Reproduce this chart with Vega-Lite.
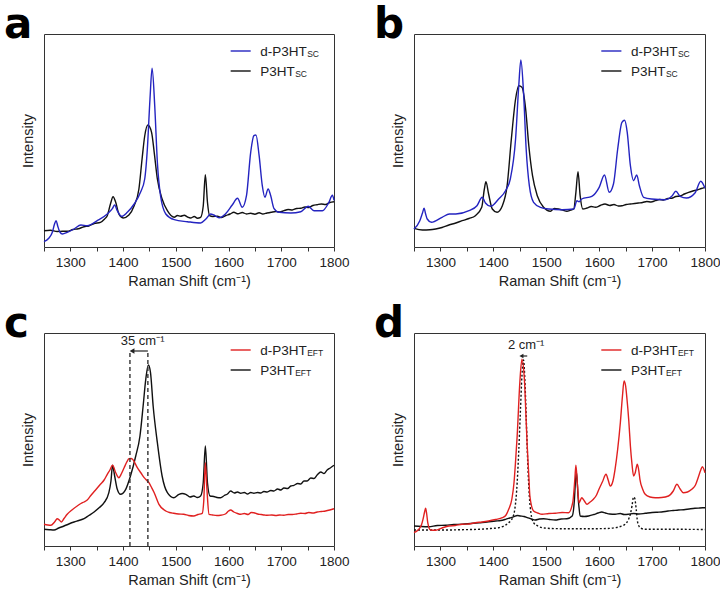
{
"$schema": "https://vega.github.io/schema/vega-lite/v6.json",
"background": "white",
"padding": {"left": 3, "top": 3, "right": 0, "bottom": 0},
"columns": 2,
"spacing": {"row": 13, "column": 23},
"config": {
  "font": "Liberation Sans",
  "view": {"stroke": "#333", "strokeWidth": 1},
  "axis": {"grid": false, "domain": false, "labelColor": "#222", "titleColor": "#222", "titleFontWeight": "normal", "tickColor": "#333"},
  "axisX": {"labelFlush": false, "labelFontSize": 13.5, "titleFontSize": 14.5, "tickSize": 4, "labelPadding": 4, "titlePadding": 6, "labelOverlap": false, "tickCount": 11, "format": "d", "labelExpr": "datum.value % 100 == 0 ? datum.label : ''"},
  "axisY": {"labels": false, "ticks": false, "titleFontSize": 14.5, "titlePadding": 9},
  "line": {"interpolate": "monotone", "strokeWidth": 1.4},
  "title": {"font": "DejaVu Sans", "fontSize": 42, "fontWeight": "bold", "anchor": "start", "frame": "group", "dx": -40, "offset": -13, "color": "#000"}
},
"datasets": {
"aD": [{"wn":1250,"int":5.3},{"wn":1259,"int":8.7},{"wn":1266,"int":15},{"wn":1270,"int":23},{"wn":1273,"int":26.3},{"wn":1276,"int":21},{"wn":1280,"int":15},{"wn":1285,"int":13},{"wn":1294,"int":14.7},{"wn":1307,"int":18},{"wn":1320,"int":22},{"wn":1332,"int":21.3},{"wn":1351,"int":26.3},{"wn":1370,"int":33},{"wn":1380,"int":38.7},{"wn":1384,"int":42},{"wn":1389,"int":36.3},{"wn":1397,"int":30.7},{"wn":1408,"int":34.7},{"wn":1421,"int":43},{"wn":1433,"int":54.7},{"wn":1441,"int":68},{"wn":1446,"int":98},{"wn":1451,"int":148},{"wn":1455,"int":178.7},{"wn":1460,"int":141.3},{"wn":1465,"int":84.7},{"wn":1471,"int":51.3},{"wn":1481,"int":33},{"wn":1497,"int":27.3},{"wn":1522,"int":25.3},{"wn":1547,"int":24},{"wn":1557,"int":28},{"wn":1566,"int":33},{"wn":1572,"int":32},{"wn":1582,"int":29.3},{"wn":1594,"int":33},{"wn":1607,"int":42},{"wn":1617,"int":48.7},{"wn":1626,"int":39.7},{"wn":1634,"int":51.3},{"wn":1642,"int":94.7},{"wn":1648,"int":111.3},{"wn":1652,"int":112},{"wn":1658,"int":91.3},{"wn":1664,"int":61.3},{"wn":1669,"int":49.7},{"wn":1675,"int":58},{"wn":1680,"int":51.3},{"wn":1686,"int":38.7},{"wn":1696,"int":34.7},{"wn":1718,"int":34},{"wn":1737,"int":35.3},{"wn":1751,"int":40.7},{"wn":1762,"int":36.3},{"wn":1778,"int":36.3},{"wn":1790,"int":44.3},{"wn":1797,"int":51.7},{"wn":1800,"int":46.7}],
"aH": [{"wn":1250,"int":16.3},{"wn":1262,"int":16.8},{"wn":1275,"int":15.5},{"wn":1285,"int":15.7},{"wn":1294,"int":15.7},{"wn":1305,"int":17.5},{"wn":1315,"int":18.2},{"wn":1326,"int":20.3},{"wn":1335,"int":21},{"wn":1345,"int":23.5},{"wn":1357,"int":24.7},{"wn":1365,"int":28},{"wn":1370,"int":31.3},{"wn":1376,"int":43},{"wn":1381,"int":50.3},{"wn":1386,"int":44.7},{"wn":1392,"int":33},{"wn":1400,"int":29},{"wn":1411,"int":32},{"wn":1421,"int":41.3},{"wn":1430,"int":58},{"wn":1436,"int":88},{"wn":1441,"int":111},{"wn":1447,"int":122},{"wn":1454,"int":114.7},{"wn":1459,"int":94.7},{"wn":1465,"int":68},{"wn":1474,"int":48},{"wn":1484,"int":36.3},{"wn":1497,"int":29.7},{"wn":1503,"int":31.5},{"wn":1509,"int":30.7},{"wn":1516,"int":31.8},{"wn":1522,"int":30},{"wn":1528,"int":29},{"wn":1535,"int":30.5},{"wn":1541,"int":28.8},{"wn":1547,"int":29.7},{"wn":1552,"int":41},{"wn":1556,"int":72.3},{"wn":1560,"int":44.7},{"wn":1564,"int":31.3},{"wn":1570,"int":30.5},{"wn":1579,"int":30.7},{"wn":1586,"int":29.5},{"wn":1595,"int":31.5},{"wn":1603,"int":33},{"wn":1610,"int":34.7},{"wn":1618,"int":33.2},{"wn":1626,"int":34.5},{"wn":1634,"int":33},{"wn":1642,"int":33.7},{"wn":1650,"int":32.8},{"wn":1658,"int":34.2},{"wn":1665,"int":33},{"wn":1673,"int":34},{"wn":1681,"int":34.8},{"wn":1690,"int":35.5},{"wn":1697,"int":35},{"wn":1705,"int":36.3},{"wn":1713,"int":37.5},{"wn":1721,"int":37},{"wn":1729,"int":38.5},{"wn":1737,"int":38.7},{"wn":1745,"int":40},{"wn":1752,"int":39.5},{"wn":1760,"int":41.5},{"wn":1768,"int":42.3},{"wn":1776,"int":43},{"wn":1784,"int":42.5},{"wn":1792,"int":44.5},{"wn":1800,"int":45.3}],
"bD": [{"wn":1250,"int":18},{"wn":1261,"int":26.3},{"wn":1266,"int":34},{"wn":1269,"int":38.7},{"wn":1272,"int":33},{"wn":1275,"int":28},{"wn":1283,"int":24.7},{"wn":1303,"int":29.7},{"wn":1317,"int":33},{"wn":1329,"int":33},{"wn":1354,"int":36.3},{"wn":1369,"int":41.3},{"wn":1379,"int":49.7},{"wn":1385,"int":44},{"wn":1395,"int":40.7},{"wn":1410,"int":48},{"wn":1423,"int":56.3},{"wn":1432,"int":68},{"wn":1442,"int":108},{"wn":1448,"int":161.3},{"wn":1452,"int":187},{"wn":1457,"int":154.7},{"wn":1462,"int":98},{"wn":1468,"int":61.3},{"wn":1476,"int":44.7},{"wn":1489,"int":39.7},{"wn":1505,"int":38},{"wn":1530,"int":37.3},{"wn":1552,"int":38},{"wn":1558,"int":46.3},{"wn":1562,"int":45.3},{"wn":1567,"int":48},{"wn":1586,"int":50.7},{"wn":1600,"int":59.7},{"wn":1610,"int":72},{"wn":1619,"int":54.7},{"wn":1627,"int":63},{"wn":1635,"int":98},{"wn":1643,"int":124.7},{"wn":1648,"int":126.7},{"wn":1653,"int":114.7},{"wn":1659,"int":81.3},{"wn":1665,"int":66.3},{"wn":1671,"int":72},{"wn":1676,"int":61.3},{"wn":1684,"int":49.7},{"wn":1699,"int":48},{"wn":1725,"int":47.3},{"wn":1737,"int":50.7},{"wn":1745,"int":55.7},{"wn":1753,"int":50.7},{"wn":1765,"int":49},{"wn":1781,"int":54},{"wn":1792,"int":65.7},{"wn":1800,"int":58.7}],
"bH": [{"wn":1250,"int":18.7},{"wn":1266,"int":17},{"wn":1280,"int":17.2},{"wn":1291,"int":18},{"wn":1303,"int":19.5},{"wn":1316,"int":22},{"wn":1329,"int":24},{"wn":1341,"int":26.3},{"wn":1354,"int":28.5},{"wn":1366,"int":31.3},{"wn":1378,"int":39.7},{"wn":1383,"int":58},{"wn":1386,"int":65.3},{"wn":1391,"int":53},{"wn":1398,"int":38},{"wn":1407,"int":34.7},{"wn":1417,"int":41.3},{"wn":1426,"int":61.3},{"wn":1434,"int":108},{"wn":1442,"int":148},{"wn":1448,"int":161.3},{"wn":1454,"int":159.7},{"wn":1461,"int":138},{"wn":1467,"int":101.3},{"wn":1474,"int":71.3},{"wn":1483,"int":51.3},{"wn":1495,"int":39.7},{"wn":1508,"int":35.7},{"wn":1515,"int":38.5},{"wn":1523,"int":38},{"wn":1531,"int":37},{"wn":1539,"int":35.7},{"wn":1546,"int":37},{"wn":1552,"int":38},{"wn":1556,"int":54.7},{"wn":1560,"int":75.3},{"wn":1564,"int":51.3},{"wn":1569,"int":38},{"wn":1577,"int":39},{"wn":1585,"int":40.5},{"wn":1593,"int":39.7},{"wn":1602,"int":41.5},{"wn":1611,"int":43},{"wn":1620,"int":41.5},{"wn":1628,"int":42.5},{"wn":1636,"int":41},{"wn":1643,"int":41.3},{"wn":1651,"int":42.5},{"wn":1659,"int":43},{"wn":1667,"int":43.5},{"wn":1674,"int":44},{"wn":1682,"int":44.5},{"wn":1690,"int":45.5},{"wn":1698,"int":45},{"wn":1706,"int":46.3},{"wn":1714,"int":47.5},{"wn":1722,"int":47},{"wn":1730,"int":48.5},{"wn":1737,"int":48.7},{"wn":1745,"int":50.5},{"wn":1753,"int":51},{"wn":1761,"int":53},{"wn":1769,"int":54.7},{"wn":1777,"int":56},{"wn":1785,"int":57},{"wn":1793,"int":58.5},{"wn":1800,"int":59.7}],
"cD": [{"wn":1250,"int":21.7},{"wn":1257,"int":21},{"wn":1263,"int":20.7},{"wn":1270,"int":24},{"wn":1275,"int":27.3},{"wn":1279,"int":26},{"wn":1283,"int":24},{"wn":1288,"int":27.5},{"wn":1294,"int":31.7},{"wn":1303,"int":36},{"wn":1313,"int":40},{"wn":1320,"int":42.5},{"wn":1326,"int":44},{"wn":1332,"int":46},{"wn":1338,"int":50},{"wn":1347,"int":55.5},{"wn":1357,"int":61.7},{"wn":1364,"int":66},{"wn":1370,"int":71.7},{"wn":1375,"int":76},{"wn":1380,"int":80.7},{"wn":1386,"int":73.3},{"wn":1392,"int":68.3},{"wn":1397,"int":72.5},{"wn":1402,"int":78.3},{"wn":1407,"int":84},{"wn":1411,"int":87.3},{"wn":1415,"int":87.5},{"wn":1418,"int":86.7},{"wn":1427,"int":78.3},{"wn":1434,"int":73},{"wn":1440,"int":68.3},{"wn":1449,"int":63.3},{"wn":1454,"int":58.5},{"wn":1459,"int":53.3},{"wn":1468,"int":41.7},{"wn":1481,"int":35},{"wn":1488,"int":33.5},{"wn":1496,"int":32.7},{"wn":1505,"int":32},{"wn":1515,"int":31.7},{"wn":1524,"int":30.5},{"wn":1534,"int":30},{"wn":1542,"int":31.5},{"wn":1550,"int":32.7},{"wn":1553,"int":45},{"wn":1556,"int":83.3},{"wn":1559,"int":56.7},{"wn":1563,"int":31.7},{"wn":1570,"int":31},{"wn":1578,"int":30.5},{"wn":1585,"int":30.7},{"wn":1594,"int":32},{"wn":1600,"int":35},{"wn":1604,"int":36},{"wn":1610,"int":34},{"wn":1617,"int":32.5},{"wn":1623,"int":31.7},{"wn":1630,"int":32.5},{"wn":1637,"int":31.5},{"wn":1643,"int":33.5},{"wn":1648,"int":33.3},{"wn":1655,"int":32},{"wn":1662,"int":31.5},{"wn":1668,"int":31},{"wn":1673,"int":30.7},{"wn":1682,"int":31},{"wn":1690,"int":30.5},{"wn":1697,"int":31},{"wn":1705,"int":30.7},{"wn":1713,"int":31.5},{"wn":1721,"int":31.5},{"wn":1729,"int":32},{"wn":1737,"int":32.7},{"wn":1745,"int":32.5},{"wn":1752,"int":33.5},{"wn":1760,"int":33},{"wn":1768,"int":34},{"wn":1776,"int":34.5},{"wn":1784,"int":35},{"wn":1792,"int":36},{"wn":1800,"int":37.3}],
"cH": [{"wn":1250,"int":16.7},{"wn":1260,"int":16.3},{"wn":1269,"int":16},{"wn":1278,"int":18},{"wn":1288,"int":20},{"wn":1297,"int":22},{"wn":1307,"int":24},{"wn":1316,"int":25.5},{"wn":1326,"int":27.3},{"wn":1335,"int":30.5},{"wn":1345,"int":34},{"wn":1355,"int":38.5},{"wn":1364,"int":43.3},{"wn":1373,"int":53.3},{"wn":1377,"int":65},{"wn":1380,"int":80.7},{"wn":1384,"int":70},{"wn":1389,"int":56.7},{"wn":1395,"int":51.7},{"wn":1405,"int":56.7},{"wn":1414,"int":70},{"wn":1424,"int":90},{"wn":1432,"int":110},{"wn":1438,"int":140},{"wn":1443,"int":166.7},{"wn":1448,"int":181},{"wn":1452,"int":173.3},{"wn":1457,"int":140},{"wn":1465,"int":103.3},{"wn":1474,"int":70},{"wn":1484,"int":53.3},{"wn":1496,"int":48.3},{"wn":1506,"int":51.7},{"wn":1512,"int":52.5},{"wn":1519,"int":51.7},{"wn":1527,"int":49},{"wn":1534,"int":50},{"wn":1541,"int":48.5},{"wn":1547,"int":50},{"wn":1552,"int":63.3},{"wn":1556,"int":100},{"wn":1560,"int":63.3},{"wn":1565,"int":50},{"wn":1572,"int":49.5},{"wn":1578,"int":48.5},{"wn":1585,"int":48.3},{"wn":1592,"int":50.5},{"wn":1598,"int":52},{"wn":1604,"int":55},{"wn":1611,"int":53},{"wn":1617,"int":54},{"wn":1623,"int":52.7},{"wn":1630,"int":53.5},{"wn":1636,"int":52},{"wn":1642,"int":53.5},{"wn":1648,"int":52.7},{"wn":1655,"int":53.5},{"wn":1661,"int":53},{"wn":1667,"int":54.5},{"wn":1673,"int":54},{"wn":1680,"int":55.5},{"wn":1686,"int":55},{"wn":1693,"int":57},{"wn":1699,"int":56},{"wn":1705,"int":58},{"wn":1712,"int":57.5},{"wn":1718,"int":60},{"wn":1724,"int":60.7},{"wn":1731,"int":62.5},{"wn":1737,"int":62},{"wn":1743,"int":65},{"wn":1749,"int":65},{"wn":1756,"int":68},{"wn":1762,"int":67.5},{"wn":1768,"int":71},{"wn":1775,"int":74},{"wn":1781,"int":72.5},{"wn":1787,"int":76},{"wn":1793,"int":78},{"wn":1800,"int":80.7}],
"dD": [{"wn":1250,"int":13.3},{"wn":1259,"int":16.7},{"wn":1264,"int":21},{"wn":1267,"int":26.7},{"wn":1270,"int":34},{"wn":1272,"int":37.7},{"wn":1274,"int":32},{"wn":1276,"int":23.3},{"wn":1281,"int":16},{"wn":1291,"int":15.7},{"wn":1303,"int":18},{"wn":1316,"int":20},{"wn":1328,"int":20.5},{"wn":1341,"int":21.7},{"wn":1354,"int":22},{"wn":1366,"int":23.3},{"wn":1379,"int":24},{"wn":1391,"int":25},{"wn":1404,"int":26.5},{"wn":1417,"int":28.3},{"wn":1424,"int":31},{"wn":1429,"int":36.7},{"wn":1435,"int":47},{"wn":1439,"int":63.3},{"wn":1442,"int":85},{"wn":1445,"int":110},{"wn":1450,"int":163.3},{"wn":1454,"int":186.7},{"wn":1459,"int":163.3},{"wn":1462,"int":125},{"wn":1464,"int":100},{"wn":1467,"int":70},{"wn":1469,"int":50},{"wn":1476,"int":35},{"wn":1484,"int":33},{"wn":1492,"int":31.7},{"wn":1505,"int":32.5},{"wn":1517,"int":32.7},{"wn":1530,"int":33.5},{"wn":1542,"int":33.3},{"wn":1550,"int":43.3},{"wn":1554,"int":66.7},{"wn":1556,"int":80.7},{"wn":1559,"int":60},{"wn":1562,"int":43.3},{"wn":1567,"int":48.3},{"wn":1572,"int":45},{"wn":1577,"int":41.7},{"wn":1583,"int":44},{"wn":1589,"int":46.7},{"wn":1595,"int":51},{"wn":1600,"int":57.3},{"wn":1606,"int":64},{"wn":1613,"int":71.7},{"wn":1617,"int":66},{"wn":1621,"int":60},{"wn":1626,"int":65},{"wn":1630,"int":76.7},{"wn":1635,"int":97},{"wn":1640,"int":123.3},{"wn":1644,"int":150},{"wn":1647,"int":165},{"wn":1650,"int":160},{"wn":1652,"int":150},{"wn":1656,"int":125},{"wn":1659,"int":100},{"wn":1662,"int":82},{"wn":1665,"int":70},{"wn":1668,"int":73},{"wn":1672,"int":81.7},{"wn":1675,"int":75},{"wn":1677,"int":66.7},{"wn":1682,"int":57},{"wn":1687,"int":51.7},{"wn":1696,"int":49},{"wn":1706,"int":48.3},{"wn":1718,"int":48.5},{"wn":1731,"int":50},{"wn":1740,"int":55},{"wn":1747,"int":61.7},{"wn":1753,"int":57},{"wn":1759,"int":53.3},{"wn":1767,"int":54},{"wn":1775,"int":56.7},{"wn":1782,"int":61},{"wn":1787,"int":68.3},{"wn":1792,"int":76},{"wn":1795,"int":79.3},{"wn":1800,"int":73.3}],
"dH": [{"wn":1250,"int":20},{"wn":1264,"int":19.5},{"wn":1278,"int":19.3},{"wn":1294,"int":20.5},{"wn":1310,"int":20.7},{"wn":1325,"int":21.5},{"wn":1341,"int":21.7},{"wn":1357,"int":22.5},{"wn":1373,"int":23.3},{"wn":1388,"int":24},{"wn":1404,"int":25},{"wn":1414,"int":25.5},{"wn":1423,"int":26.7},{"wn":1431,"int":28},{"wn":1439,"int":29.3},{"wn":1445,"int":30.5},{"wn":1451,"int":30},{"wn":1458,"int":29.5},{"wn":1464,"int":28.3},{"wn":1472,"int":27},{"wn":1479,"int":26},{"wn":1487,"int":27},{"wn":1495,"int":27.3},{"wn":1506,"int":26.5},{"wn":1517,"int":26},{"wn":1528,"int":27},{"wn":1539,"int":27.3},{"wn":1549,"int":30},{"wn":1553,"int":45},{"wn":1555,"int":63.3},{"wn":1557,"int":74},{"wn":1559,"int":60},{"wn":1560,"int":50},{"wn":1562,"int":38},{"wn":1564,"int":30},{"wn":1572,"int":29.5},{"wn":1580,"int":30},{"wn":1590,"int":31.5},{"wn":1598,"int":33},{"wn":1605,"int":34},{"wn":1612,"int":33},{"wn":1620,"int":32},{"wn":1630,"int":31.7},{"wn":1640,"int":32.5},{"wn":1647,"int":31.5},{"wn":1655,"int":31.7},{"wn":1665,"int":32.5},{"wn":1675,"int":32},{"wn":1687,"int":32.7},{"wn":1700,"int":33.5},{"wn":1710,"int":33.8},{"wn":1718,"int":34},{"wn":1730,"int":35},{"wn":1740,"int":35.5},{"wn":1750,"int":36},{"wn":1760,"int":36.3},{"wn":1770,"int":37},{"wn":1781,"int":37.7},{"wn":1790,"int":38},{"wn":1800,"int":38.3}],
"dR": [{"wn":1250,"int":16},{"wn":1280,"int":16},{"wn":1310,"int":16},{"wn":1340,"int":16.3},{"wn":1373,"int":16.7},{"wn":1395,"int":17.5},{"wn":1410,"int":18.3},{"wn":1420,"int":20},{"wn":1429,"int":23.3},{"wn":1436,"int":28},{"wn":1440,"int":35},{"wn":1444,"int":55},{"wn":1448,"int":95},{"wn":1451,"int":133.3},{"wn":1454,"int":170},{"wn":1457,"int":186},{"wn":1460,"int":160},{"wn":1462,"int":130},{"wn":1465,"int":83.3},{"wn":1468,"int":50},{"wn":1471,"int":33},{"wn":1476,"int":23.3},{"wn":1484,"int":20},{"wn":1492,"int":18.3},{"wn":1510,"int":17.5},{"wn":1530,"int":17.3},{"wn":1560,"int":17.3},{"wn":1593,"int":17.3},{"wn":1615,"int":17.5},{"wn":1630,"int":18.3},{"wn":1640,"int":19.5},{"wn":1649,"int":21.7},{"wn":1655,"int":26},{"wn":1659,"int":32},{"wn":1662,"int":40},{"wn":1665,"int":49},{"wn":1667,"int":48},{"wn":1670,"int":36.7},{"wn":1672,"int":26},{"wn":1675,"int":20},{"wn":1680,"int":17.5},{"wn":1687,"int":16.7},{"wn":1720,"int":16.7},{"wn":1750,"int":16.7},{"wn":1800,"int":16.5}]
},
"concat": [
{
 "title": "a", "width": 290, "height": 213,
 "layer": [
  {"data": {"name": "aH"}, "mark": {"type": "line", "color": "#111"},
   "encoding": {"x": {"field": "wn", "type": "quantitative", "scale": {"domain": [1250, 1800], "nice": false, "zero": false}, "axis": {"title": "Raman Shift (cm⁻¹)"}},
                "y": {"field": "int", "type": "quantitative", "scale": {"domain": [0, 213], "nice": false}, "axis": {"title": "Intensity"}}}},
  {"data": {"name": "aD"}, "mark": {"type": "line", "color": "#2424c0"},
   "encoding": {"x": {"field": "wn", "type": "quantitative"}, "y": {"field": "int", "type": "quantitative"}}},
  {"data": {"values": [{}]}, "mark": {"type": "rule", "color": "#2424c0", "strokeWidth": 1.4}, "encoding": {"x": {"datum": 1604}, "x2": {"datum": 1642}, "y": {"datum": 196}}},
  {"data": {"values": [{}]}, "mark": {"type": "rule", "color": "#111", "strokeWidth": 1.4}, "encoding": {"x": {"datum": 1604}, "x2": {"datum": 1642}, "y": {"datum": 176}}},
  {"data": {"values": [{}]}, "mark": {"type": "text", "align": "left", "baseline": "alphabetic", "fontSize": 13.5, "dy": 5, "color": "#222"}, "encoding": {"x": {"datum": 1660}, "y": {"datum": 196}, "text": {"value": "d-P3HT"}}},
  {"data": {"values": [{}]}, "mark": {"type": "text", "align": "left", "baseline": "alphabetic", "fontSize": 8.5, "dx": 47, "dy": 6, "color": "#222"}, "encoding": {"x": {"datum": 1660}, "y": {"datum": 196}, "text": {"value": "SC"}}},
  {"data": {"values": [{}]}, "mark": {"type": "text", "align": "left", "baseline": "alphabetic", "fontSize": 13.5, "dy": 5, "color": "#222"}, "encoding": {"x": {"datum": 1660}, "y": {"datum": 176}, "text": {"value": "P3HT"}}},
  {"data": {"values": [{}]}, "mark": {"type": "text", "align": "left", "baseline": "alphabetic", "fontSize": 8.5, "dx": 35, "dy": 6, "color": "#222"}, "encoding": {"x": {"datum": 1660}, "y": {"datum": 176}, "text": {"value": "SC"}}}
 ]
},
{
 "title": "b", "width": 291, "height": 213,
 "layer": [
  {"data": {"name": "bH"}, "mark": {"type": "line", "color": "#111"},
   "encoding": {"x": {"field": "wn", "type": "quantitative", "scale": {"domain": [1250, 1800], "nice": false, "zero": false}, "axis": {"title": "Raman Shift (cm⁻¹)"}},
                "y": {"field": "int", "type": "quantitative", "scale": {"domain": [0, 213], "nice": false}, "axis": {"title": "Intensity"}}}},
  {"data": {"name": "bD"}, "mark": {"type": "line", "color": "#2424c0"},
   "encoding": {"x": {"field": "wn", "type": "quantitative"}, "y": {"field": "int", "type": "quantitative"}}},
  {"data": {"values": [{}]}, "mark": {"type": "rule", "color": "#2424c0", "strokeWidth": 1.4}, "encoding": {"x": {"datum": 1604}, "x2": {"datum": 1642}, "y": {"datum": 196}}},
  {"data": {"values": [{}]}, "mark": {"type": "rule", "color": "#111", "strokeWidth": 1.4}, "encoding": {"x": {"datum": 1604}, "x2": {"datum": 1642}, "y": {"datum": 176}}},
  {"data": {"values": [{}]}, "mark": {"type": "text", "align": "left", "baseline": "alphabetic", "fontSize": 13.5, "dy": 5, "color": "#222"}, "encoding": {"x": {"datum": 1660}, "y": {"datum": 196}, "text": {"value": "d-P3HT"}}},
  {"data": {"values": [{}]}, "mark": {"type": "text", "align": "left", "baseline": "alphabetic", "fontSize": 8.5, "dx": 47, "dy": 6, "color": "#222"}, "encoding": {"x": {"datum": 1660}, "y": {"datum": 196}, "text": {"value": "SC"}}},
  {"data": {"values": [{}]}, "mark": {"type": "text", "align": "left", "baseline": "alphabetic", "fontSize": 13.5, "dy": 5, "color": "#222"}, "encoding": {"x": {"datum": 1660}, "y": {"datum": 176}, "text": {"value": "P3HT"}}},
  {"data": {"values": [{}]}, "mark": {"type": "text", "align": "left", "baseline": "alphabetic", "fontSize": 8.5, "dx": 35, "dy": 6, "color": "#222"}, "encoding": {"x": {"datum": 1660}, "y": {"datum": 176}, "text": {"value": "SC"}}}
 ]
},
{
 "title": "c", "width": 290, "height": 213,
 "layer": [
  {"data": {"name": "cH"}, "mark": {"type": "line", "color": "#111"},
   "encoding": {"x": {"field": "wn", "type": "quantitative", "scale": {"domain": [1250, 1800], "nice": false, "zero": false}, "axis": {"title": "Raman Shift (cm⁻¹)"}},
                "y": {"field": "int", "type": "quantitative", "scale": {"domain": [0, 213], "nice": false}, "axis": {"title": "Intensity"}}}},
  {"data": {"name": "cD"}, "mark": {"type": "line", "color": "#e02020"},
   "encoding": {"x": {"field": "wn", "type": "quantitative"}, "y": {"field": "int", "type": "quantitative"}}},
  {"data": {"values": [{"wn": 1413}, {"wn": 1447}]}, "mark": {"type": "rule", "color": "#333", "strokeWidth": 1.4, "strokeDash": [4, 3]}, "encoding": {"x": {"field": "wn", "type": "quantitative"}, "y": {"datum": 0}, "y2": {"datum": 196}}},
  {"data": {"values": [{}]}, "mark": {"type": "rule", "color": "#222", "strokeWidth": 1.2}, "encoding": {"x": {"datum": 1420}, "x2": {"datum": 1447}, "y": {"datum": 195}}},
  {"data": {"values": [{}]}, "mark": {"type": "point", "shape": "triangle-left", "filled": true, "size": 30, "color": "#222", "opacity": 1}, "encoding": {"x": {"datum": 1417}, "y": {"datum": 195}}},
  {"data": {"values": [{}]}, "mark": {"type": "text", "align": "center", "baseline": "middle", "fontSize": 13, "color": "#222"}, "encoding": {"x": {"datum": 1437}, "y": {"datum": 205.5}, "text": {"value": "35 cm⁻¹"}}},
  {"data": {"values": [{}]}, "mark": {"type": "rule", "color": "#e02020", "strokeWidth": 1.4}, "encoding": {"x": {"datum": 1604}, "x2": {"datum": 1642}, "y": {"datum": 196}}},
  {"data": {"values": [{}]}, "mark": {"type": "rule", "color": "#111", "strokeWidth": 1.4}, "encoding": {"x": {"datum": 1604}, "x2": {"datum": 1642}, "y": {"datum": 176}}},
  {"data": {"values": [{}]}, "mark": {"type": "text", "align": "left", "baseline": "alphabetic", "fontSize": 13.5, "dy": 5, "color": "#222"}, "encoding": {"x": {"datum": 1660}, "y": {"datum": 196}, "text": {"value": "d-P3HT"}}},
  {"data": {"values": [{}]}, "mark": {"type": "text", "align": "left", "baseline": "alphabetic", "fontSize": 8.5, "dx": 47, "dy": 6, "color": "#222"}, "encoding": {"x": {"datum": 1660}, "y": {"datum": 196}, "text": {"value": "EFT"}}},
  {"data": {"values": [{}]}, "mark": {"type": "text", "align": "left", "baseline": "alphabetic", "fontSize": 13.5, "dy": 5, "color": "#222"}, "encoding": {"x": {"datum": 1660}, "y": {"datum": 176}, "text": {"value": "P3HT"}}},
  {"data": {"values": [{}]}, "mark": {"type": "text", "align": "left", "baseline": "alphabetic", "fontSize": 8.5, "dx": 35, "dy": 6, "color": "#222"}, "encoding": {"x": {"datum": 1660}, "y": {"datum": 176}, "text": {"value": "EFT"}}}
 ]
},
{
 "title": "d", "width": 291, "height": 213,
 "layer": [
  {"data": {"name": "dR"}, "mark": {"type": "line", "color": "#111", "strokeDash": [2, 2]},
   "encoding": {"x": {"field": "wn", "type": "quantitative", "scale": {"domain": [1250, 1800], "nice": false, "zero": false}, "axis": {"title": "Raman Shift (cm⁻¹)"}},
                "y": {"field": "int", "type": "quantitative", "scale": {"domain": [0, 213], "nice": false}, "axis": {"title": "Intensity"}}}},
  {"data": {"name": "dH"}, "mark": {"type": "line", "color": "#111"},
   "encoding": {"x": {"field": "wn", "type": "quantitative"}, "y": {"field": "int", "type": "quantitative"}}},
  {"data": {"name": "dD"}, "mark": {"type": "line", "color": "#e02020"},
   "encoding": {"x": {"field": "wn", "type": "quantitative"}, "y": {"field": "int", "type": "quantitative"}}},
  {"data": {"values": [{}]}, "mark": {"type": "rule", "color": "#222", "strokeWidth": 1.2}, "encoding": {"x": {"datum": 1455}, "x2": {"datum": 1464}, "y": {"datum": 190}}},
  {"data": {"values": [{}]}, "mark": {"type": "point", "shape": "triangle-left", "filled": true, "size": 22, "color": "#222", "opacity": 1}, "encoding": {"x": {"datum": 1453}, "y": {"datum": 190}}},
  {"data": {"values": [{}]}, "mark": {"type": "text", "align": "center", "baseline": "middle", "fontSize": 13, "color": "#222"}, "encoding": {"x": {"datum": 1462}, "y": {"datum": 201.5}, "text": {"value": "2 cm⁻¹"}}},
  {"data": {"values": [{}]}, "mark": {"type": "rule", "color": "#e02020", "strokeWidth": 1.4}, "encoding": {"x": {"datum": 1604}, "x2": {"datum": 1642}, "y": {"datum": 196}}},
  {"data": {"values": [{}]}, "mark": {"type": "rule", "color": "#111", "strokeWidth": 1.4}, "encoding": {"x": {"datum": 1604}, "x2": {"datum": 1642}, "y": {"datum": 176}}},
  {"data": {"values": [{}]}, "mark": {"type": "text", "align": "left", "baseline": "alphabetic", "fontSize": 13.5, "dy": 5, "color": "#222"}, "encoding": {"x": {"datum": 1660}, "y": {"datum": 196}, "text": {"value": "d-P3HT"}}},
  {"data": {"values": [{}]}, "mark": {"type": "text", "align": "left", "baseline": "alphabetic", "fontSize": 8.5, "dx": 47, "dy": 6, "color": "#222"}, "encoding": {"x": {"datum": 1660}, "y": {"datum": 196}, "text": {"value": "EFT"}}},
  {"data": {"values": [{}]}, "mark": {"type": "text", "align": "left", "baseline": "alphabetic", "fontSize": 13.5, "dy": 5, "color": "#222"}, "encoding": {"x": {"datum": 1660}, "y": {"datum": 176}, "text": {"value": "P3HT"}}},
  {"data": {"values": [{}]}, "mark": {"type": "text", "align": "left", "baseline": "alphabetic", "fontSize": 8.5, "dx": 35, "dy": 6, "color": "#222"}, "encoding": {"x": {"datum": 1660}, "y": {"datum": 176}, "text": {"value": "EFT"}}}
 ]
}
]
}
